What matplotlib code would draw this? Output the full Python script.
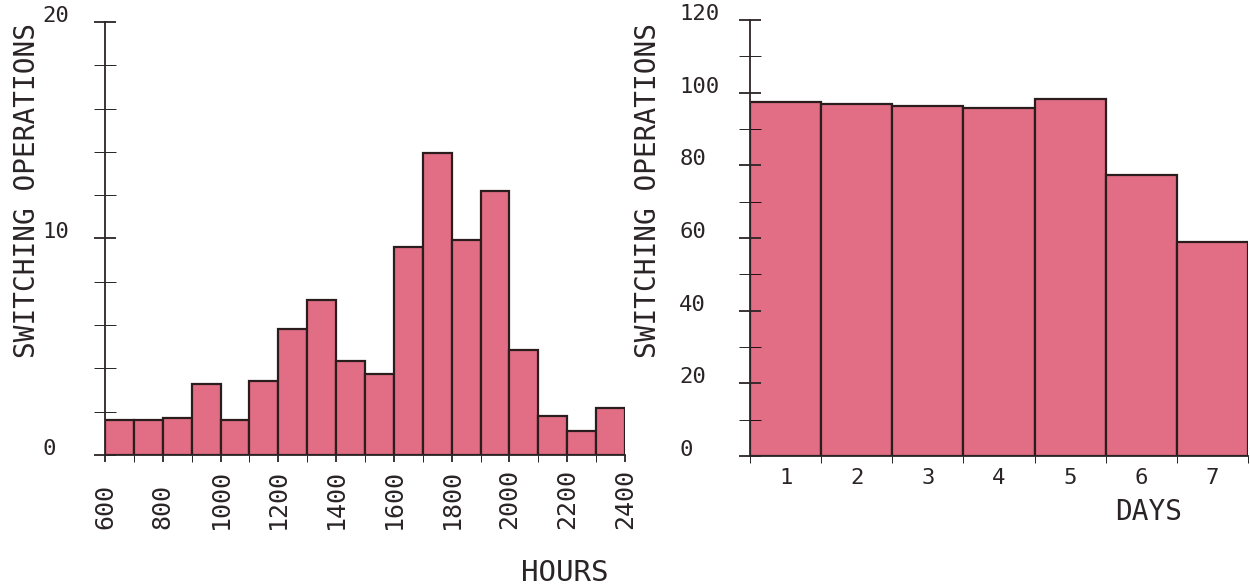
import numpy as np
import matplotlib.pyplot as plt
from matplotlib.ticker import MultipleLocator, FixedLocator

plt.rcParams["font.family"] = "DejaVu Sans Mono"

# left chart: switching operations per hour slot
hour_edges = np.arange(600, 2500, 100)
hour_counts = [1.6, 1.6, 1.7, 3.3, 1.6, 3.4, 5.8, 7.15, 4.35, 3.75,
               9.6, 13.95, 9.95, 12.2, 4.85, 1.8, 1.1, 2.15]
hour_labels = ['600', '800', '1000', '1200', '1400', '1600', '1800', '2000', '2200', '2400']

# right chart: switching operations per day
days = [1, 2, 3, 4, 5, 6, 7]
day_counts = [97.5, 97.0, 96.3, 95.9, 98.2, 77.4, 58.8]

fill = '#E16E84'
edge = '#2b1c1e'
ink = '#2b2426'

fig = plt.figure(figsize=(12.5, 5.88), dpi=100)
ax1 = fig.add_axes([105 / 1250, 133 / 588, 520 / 1250, 433 / 588])
ax2 = fig.add_axes([750 / 1250, 132 / 588, 498 / 1250, 436 / 588])

for ax in (ax1, ax2):
    for s in ('top', 'right'):
        ax.spines[s].set_visible(False)
    for s in ('left', 'bottom'):
        ax.spines[s].set_color(ink)
        ax.spines[s].set_linewidth(1.3)
    ax.tick_params(colors=ink, width=1.3)

# ---- left: hours
ax1.bar(hour_edges[:-1], hour_counts, width=100, align='edge',
        color=fill, edgecolor=edge, linewidth=1.6)
ax1.set_xlim(600, 2400)
ax1.set_ylim(0, 20)
ax1.yaxis.set_major_locator(FixedLocator([0, 10, 20]))
ax1.yaxis.set_minor_locator(MultipleLocator(2))
ax1.set_yticklabels(['0', '10', '20'])
ax1.tick_params(axis='y', which='both', direction='inout', length=16, pad=37)
for lbl in ax1.get_yticklabels():
    lbl.set_ha('left')
    lbl.set_va('baseline')
    lbl.set_fontsize(16)
ax1.xaxis.set_major_locator(FixedLocator(list(range(600, 2500, 200))))
ax1.xaxis.set_minor_locator(MultipleLocator(100))
ax1.set_xticklabels(hour_labels, rotation=90)
ax1.tick_params(axis='x', which='both', direction='out', length=5, pad=48)
for lbl in ax1.get_xticklabels():
    lbl.set_va('bottom')
    lbl.set_fontsize(18)

fig.text(27 / 1250, 1 - 190 / 588, 'SWITCHING OPERATIONS', rotation=90,
         ha='center', va='center', fontsize=20, color=ink)
fig.text(565 / 1250, 1 - 573 / 588, 'HOURS', ha='center', va='center',
         fontsize=21, color=ink)

# ---- right: days
ax2.bar(days, day_counts, width=1.0, color=fill, edgecolor=edge, linewidth=1.6)
ax2.set_xlim(0.5, 7.5)
ax2.set_ylim(0, 120)
ax2.yaxis.set_major_locator(MultipleLocator(20))
ax2.yaxis.set_minor_locator(MultipleLocator(10))
ax2.tick_params(axis='y', which='both', direction='inout', length=16, pad=43)
for lbl in ax2.get_yticklabels():
    lbl.set_ha('left')
    lbl.set_va('baseline')
    lbl.set_fontsize(16)
ax2.xaxis.set_major_locator(FixedLocator(days))
ax2.xaxis.set_minor_locator(MultipleLocator(1, offset=0.5))
ax2.tick_params(axis='x', which='major', length=0, pad=9, labelsize=16)
ax2.tick_params(axis='x', which='minor', direction='out', length=5)

fig.text(648 / 1250, 1 - 190 / 588, 'SWITCHING OPERATIONS', rotation=90,
         ha='center', va='center', fontsize=20, color=ink)
fig.text(1149 / 1250, 1 - 512 / 588, 'DAYS', ha='center', va='center',
         fontsize=20, color=ink)

fig.savefig('out.png', dpi=100, facecolor='white')
